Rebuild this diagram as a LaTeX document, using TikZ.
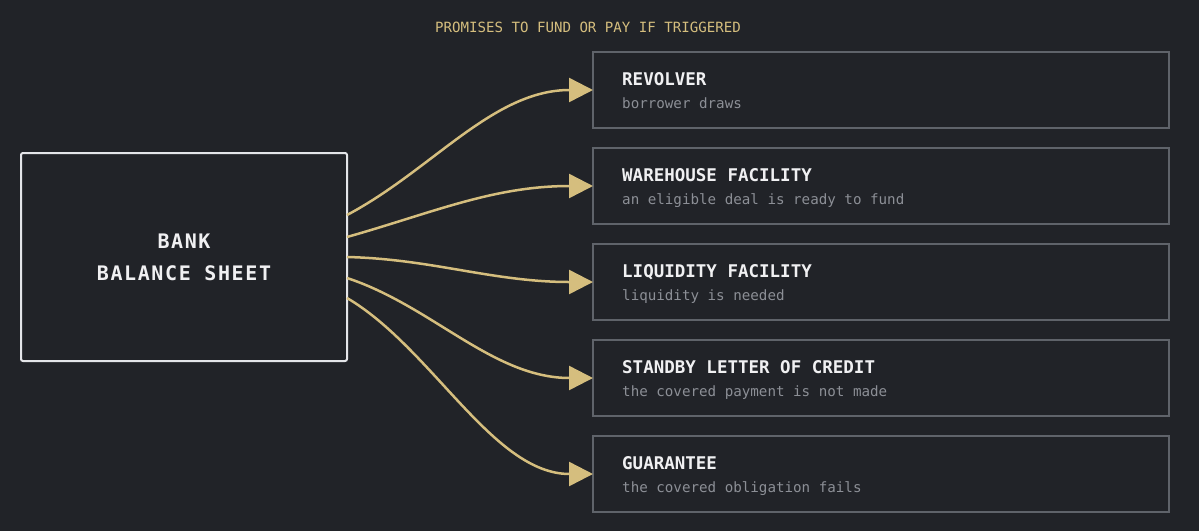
\documentclass[tikz,border=0pt]{standalone}
\usepackage{fontspec}
\usepackage{tikz}
\usetikzlibrary{positioning, arrows.meta}
\newfontfamily\monofont{DejaVu Sans Mono}
\newfontfamily\spacedmono[LetterSpace=8]{DejaVu Sans Mono}
\definecolor{bg}{RGB}{33,35,40}
\definecolor{gold}{RGB}{213,190,126}
\definecolor{boxgray}{RGB}{95,99,106}
\definecolor{notegray}{RGB}{140,143,150}
\definecolor{titlewhite}{RGB}{240,240,242}
\definecolor{bankline}{RGB}{228,229,233}

\tikzset{
  bankbox/.style={draw=bankline, line width=2pt, fill=bg, rounded corners=2pt,
    minimum width=326pt, minimum height=208pt, outer sep=0pt, align=center,
    text=titlewhite, font=\spacedmono\bfseries\fontsize{20}{32}\selectfont},
  facility/.style={draw=boxgray, line width=1.8pt, fill=bg, minimum width=576pt,
    minimum height=76pt, inner sep=0pt, outer sep=0pt},
  facname/.style={anchor=base west, inner sep=0pt, text=titlewhite,
    font=\monofont\bfseries\fontsize{17.5}{20}\selectfont},
  facnote/.style={anchor=base west, inner sep=0pt, text=notegray,
    font=\monofont\fontsize{14.2}{17}\selectfont},
  promise/.style={draw=gold, line width=2.5pt,
    -{Triangle[length=24pt,width=24pt,fill=gold]}}
}

\begin{document}
\begin{tikzpicture}[x=1pt, y=-1pt]
\fill[bg] (0,0) rectangle (1199,531);

\node[anchor=base, inner sep=0pt, text=gold,
      font=\monofont\fontsize{14.1}{17}\selectfont] (caption) at (588,32.7)
  {PROMISES TO FUND OR PAY IF TRIGGERED};

\node[bankbox] (bank) at (184,257) {BANK\\BALANCE SHEET};

% facilities, stacked
\node[facility] (rev) at (881,90) {};
\node[facility, below=20pt of rev] (wh) {};
\node[facility, below=20pt of wh] (liq) {};
\node[facility, below=20pt of liq] (sblc) {};
\node[facility, below=20pt of sblc] (guar) {};

\node[facname] (revname) at ([xshift=29pt,yshift=-33pt]rev.north west) {REVOLVER};
\node[facnote] (revnote) at ([xshift=29pt,yshift=-56pt]rev.north west) {borrower draws};
\node[facname] (whname) at ([xshift=29pt,yshift=-33pt]wh.north west) {WAREHOUSE FACILITY};
\node[facnote] (whnote) at ([xshift=29pt,yshift=-56pt]wh.north west) {an eligible deal is ready to fund};
\node[facname] (liqname) at ([xshift=29pt,yshift=-33pt]liq.north west) {LIQUIDITY FACILITY};
\node[facnote] (liqnote) at ([xshift=29pt,yshift=-56pt]liq.north west) {liquidity is needed};
\node[facname] (sblcname) at ([xshift=29pt,yshift=-33pt]sblc.north west) {STANDBY LETTER OF CREDIT};
\node[facnote] (sblcnote) at ([xshift=29pt,yshift=-56pt]sblc.north west) {the covered payment is not made};
\node[facname] (guarname) at ([xshift=29pt,yshift=-33pt]guar.north west) {GUARANTEE};
\node[facnote] (guarnote) at ([xshift=29pt,yshift=-56pt]guar.north west) {the covered obligation fails};

% promises
\draw[promise] ([yshift=42pt]bank.east) .. controls +(85,-45) and +(-100,0) .. (rev.west);
\draw[promise] ([yshift=20pt]bank.east) .. controls +(85,-24) and +(-100,0) .. (wh.west);
\draw[promise] (bank.east) .. controls +(85,2) and +(-100,0) .. (liq.west);
\draw[promise] ([yshift=-21pt]bank.east) .. controls +(85,28) and +(-100,0) .. (sblc.west);
\draw[promise] ([yshift=-41pt]bank.east) .. controls +(85,50) and +(-100,0) .. (guar.west);
\end{tikzpicture}
\end{document}
